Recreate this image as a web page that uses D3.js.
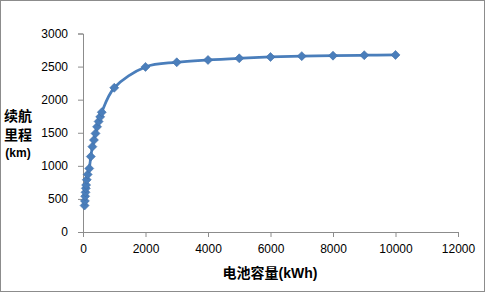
<!DOCTYPE html>
<html>
<head>
<meta charset="utf-8">
<script src="https://cdn.jsdelivr.net/npm/d3@7"></script>
<style>
  body { margin: 0; background: #fff; }
  svg { display: block; font-family: "Liberation Sans", "Noto Sans CJK SC", sans-serif; }
</style>
</head>
<body>
<script>
// battery capacity (kWh) vs range (km)
const capacity = [50, 60, 70, 80, 90, 100, 120, 150, 200, 250, 300, 350, 400, 450, 500, 550, 600,
                  1000, 2000, 3000, 4000, 5000, 6000, 7000, 8000, 9000, 10000];
const range = [400, 470, 540, 600, 660, 710, 790, 870, 960, 1140, 1290, 1390, 1490, 1590, 1670, 1740, 1810,
               2180, 2495, 2565, 2600, 2625, 2645, 2658, 2665, 2672, 2676];
const xTicks = [0, 2000, 4000, 6000, 8000, 10000, 12000];
const yTicks = [0, 500, 1000, 1500, 2000, 2500, 3000];

const w = 485, h = 292;
const svg = d3.select("body").append("svg").attr("width", w).attr("height", h);

// outer border
svg.append("rect").attr("x", 0.5).attr("y", 0.5).attr("width", w - 1).attr("height", h - 1)
   .attr("fill", "#fff").attr("stroke", "#8c8c8c");

const x = d3.scaleLinear().domain([0, 12000]).range([83, 458]);
const y = d3.scaleLinear().domain([0, 3000]).range([232, 33.5]);

const axisColor = "#8c8c8c";

const gx = svg.append("g").attr("transform", "translate(0,232)")
  .call(d3.axisBottom(x).tickValues(xTicks).tickSize(5).tickPadding(7).tickFormat(d3.format("d")));
const gy = svg.append("g").attr("transform", "translate(83,0)")
  .call(d3.axisLeft(y).tickValues(yTicks).tickSize(5).tickPadding(10).tickFormat(d3.format("d")));

[gx, gy].forEach(g => {
  g.select(".domain").attr("stroke", axisColor);
  g.selectAll(".tick line").attr("stroke", axisColor);
  g.selectAll(".tick text").attr("fill", "#000").style("font-size", "12px")
   .style("font-family", "Liberation Sans, sans-serif");
});

// the line (smoothed like the spreadsheet's)
const pts = capacity.map((c, i) => [c, range[i]]);
const line = d3.line().x(d => x(d[0])).y(d => y(d[1])).curve(d3.curveCatmullRom.alpha(0.5));
svg.append("path").datum(pts).attr("d", line)
   .attr("fill", "none").attr("stroke", "#4a7ebb").attr("stroke-width", 2.75);

// diamond markers
svg.selectAll(".pt").data(pts).enter().append("path")
   .attr("class", "pt")
   .attr("transform", d => "translate(" + x(d[0]) + "," + y(d[1]) + ")")
   .attr("d", "M0,-4.5L4.5,0L0,4.5L-4.5,0Z")
   .attr("fill", "#4a7ebb").attr("stroke", "#3f6fa8").attr("stroke-width", 0.6);

// axis titles
svg.append("text").attr("x", 270).attr("y", 278).attr("text-anchor", "middle")
   .style("font-size", "14px").style("font-weight", "bold").text("电池容量(kWh)");

const ytitle = svg.append("text").attr("text-anchor", "middle")
   .style("font-size", "14px").style("font-weight", "bold");
ytitle.append("tspan").attr("x", 18).attr("y", 121).text("续航");
ytitle.append("tspan").attr("x", 18).attr("y", 140).text("里程");
ytitle.append("tspan").attr("x", 18).attr("y", 157).style("font-size", "12px").text("(km)");
</script>
</body>
</html>
